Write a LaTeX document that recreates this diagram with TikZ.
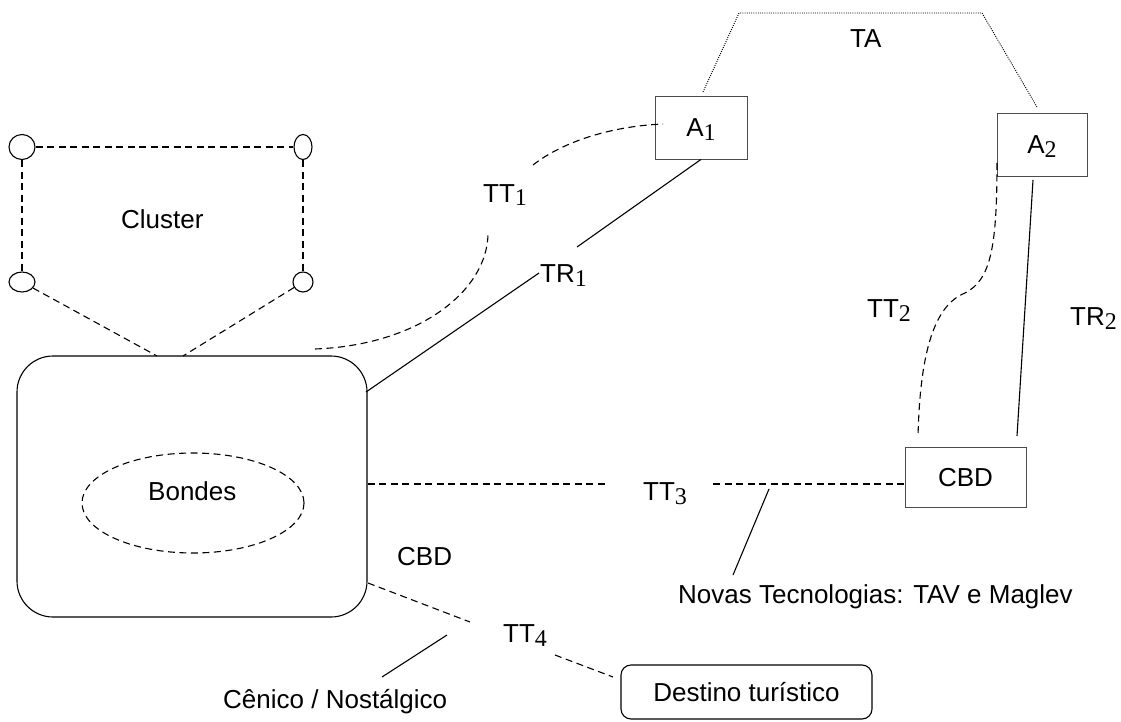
\documentclass[tikz,border=0pt]{standalone}
\usepackage{fontspec}
\setmainfont{Liberation Sans}
\newfontfamily\subfont{Liberation Serif}
\usepackage{tikz}
\usetikzlibrary{shapes.geometric}
\newcommand{\idx}[1]{\raisebox{-4pt}{\subfont\fontsize{24}{24}\selectfont #1}}

\begin{document}
\begin{tikzpicture}[x=1pt,y=-1pt,
    every node/.style={font=\fontsize{26}{31}\selectfont},
    lbl/.style={anchor=base west,inner sep=0pt},
    link/.style={line width=1.1pt},
    dashline/.style={line width=1.1pt,dash pattern=on 7pt off 4.5pt},
    dotline/.style={line width=0.9pt,dash pattern=on 1pt off 1.2pt},
    pole/.style={draw,ellipse,line width=1.1pt,inner sep=0pt},
    box/.style={draw=black!70,line width=0.8pt,inner sep=0pt,text height=19pt,text depth=0pt}]

      \useasboundingbox (0,0) rectangle (1121,722);

      % cluster
      \node[pole,minimum width=26pt,minimum height=25pt] (c1) at (22,147) {};
      \node[pole,minimum width=18pt,minimum height=25pt] (c2) at (303,147) {};
      \node[pole,minimum width=26pt,minimum height=20pt] (c3) at (22,282) {};
      \node[pole,minimum width=20pt,minimum height=20pt] (c4) at (303,282) {};
      \node[lbl] (cluster) at (121,228) {Cluster};
      \draw[dashline] (c1) -- (c2);
      \draw[dashline] (c1) -- (c3);
      \draw[dashline] (c2) -- (c4);

      % city and bondes
      \node[draw,rounded corners=36pt,line width=1.1pt,minimum width=350pt,minimum height=261pt] (city) at (192,486.5) {};
      \node[draw,ellipse,dashline,minimum width=222pt,minimum height=100pt] (bondes) at (193,503) {};
      \node[lbl] (bondestxt) at (148,500) {Bondes};
      \node[lbl] (cbdtxt) at (397,565) {CBD};

      \coordinate (k1) at (157,356);
      \coordinate (k2) at (183,356);
      \draw[dashline] (c3) -- (k1);
      \draw[dashline] (c4) -- (k2);

      % airports and remote cbd
      \node[box,minimum width=92pt,minimum height=63pt] (a1) at (701,127.5) {A\idx{1}};
      \node[box,minimum width=90pt,minimum height=63pt] (a2) at (1042,144.5) {A\idx{2}};
      \node[box,minimum width=121pt,minimum height=60pt] (cbd) at (965.5,477) {CBD};
      \node[draw,rounded corners=10pt,line width=1.1pt,inner sep=0pt,text height=19pt,text depth=0pt,
            minimum width=251pt,minimum height=54pt] (destino) at (746.5,692) {Destino turístico};

      % labels
      \node[lbl] (ta) at (850,48) {TA};
      \node[lbl] (tt1) at (483,202) {TT\idx{1}};
      \node[lbl] (tr1) at (540,282) {TR\idx{1}};
      \node[lbl] (tt2) at (867,317) {TT\idx{2}};
      \node[lbl] (tr2) at (1070,325) {TR\idx{2}};
      \node[lbl] (tt3) at (643,500) {TT\idx{3}};
      \node[lbl] (tt4) at (503,642) {TT\idx{4}};
      \node[lbl] (novas) at (678,603) {Novas Tecnologias: TAV e Maglev};
      \node[lbl] (cenico) at (223,708) {Cênico / Nostálgico};

      % TA
      \coordinate (ta0) at (703,92);
      \coordinate (ta1) at (739,13);
      \coordinate (ta2) at (982,13);
      \coordinate (ta3) at (1037,107);
      \draw[dotline] (ta0) -- (ta1) -- (ta2) -- (ta3);

      % TT1 and TR1
      \coordinate (tt1a) at (315,349);
      \coordinate (tt1b) at (488,233);
      \coordinate (tt1c) at (533,165);
      \coordinate (tt1d) at (663,124);
      \draw[dashline] (tt1a) .. controls (420,345) and (488,290) .. (tt1b);
      \draw[dashline] (tt1c) .. controls (565,140) and (615,126) .. (tt1d);
      \coordinate (tr1a) at (577,247);
      \coordinate (tr1b) at (539,273);
      \coordinate (tr1c) at (366,392);
      \draw[link] (a1.south) -- (tr1a);
      \draw[link] (tr1b) -- (tr1c);

      % TT2 and TR2
      \coordinate (tt2a) at (997,163);
      \coordinate (tt2b) at (918,437);
      \draw[dashline] (tt2a) .. controls (997,250) and (990,280) .. (965,293)
            .. controls (935,305) and (920,350) .. (tt2b);
      \coordinate (tr2a) at (1033,180);
      \coordinate (tr2b) at (1017,436);
      \draw[link] (tr2a) -- (tr2b);

      % TT3
      \coordinate (tt3a) at (608,484);
      \coordinate (tt3b) at (713,484);
      \draw[dashline] (city.east |- tt3a) -- (tt3a);
      \draw[dashline] (tt3b) -- (cbd.west |- tt3b);
      \coordinate (nt1) at (769,489);
      \coordinate (nt2) at (733,575);
      \draw[link] (nt1) -- (nt2);

      % TT4
      \coordinate (tt4o) at (368,583);
      \coordinate (tt4a) at (470,622);
      \coordinate (tt4b) at (555,655);
      \coordinate (tt4c) at (613,677);
      \draw[dashline] (tt4o) -- (tt4a);
      \draw[dashline] (tt4b) -- (tt4c);
      \coordinate (cn1) at (447,635);
      \coordinate (cn2) at (382,677);
      \draw[link] (cn1) -- (cn2);

    \end{tikzpicture}
\end{document}
